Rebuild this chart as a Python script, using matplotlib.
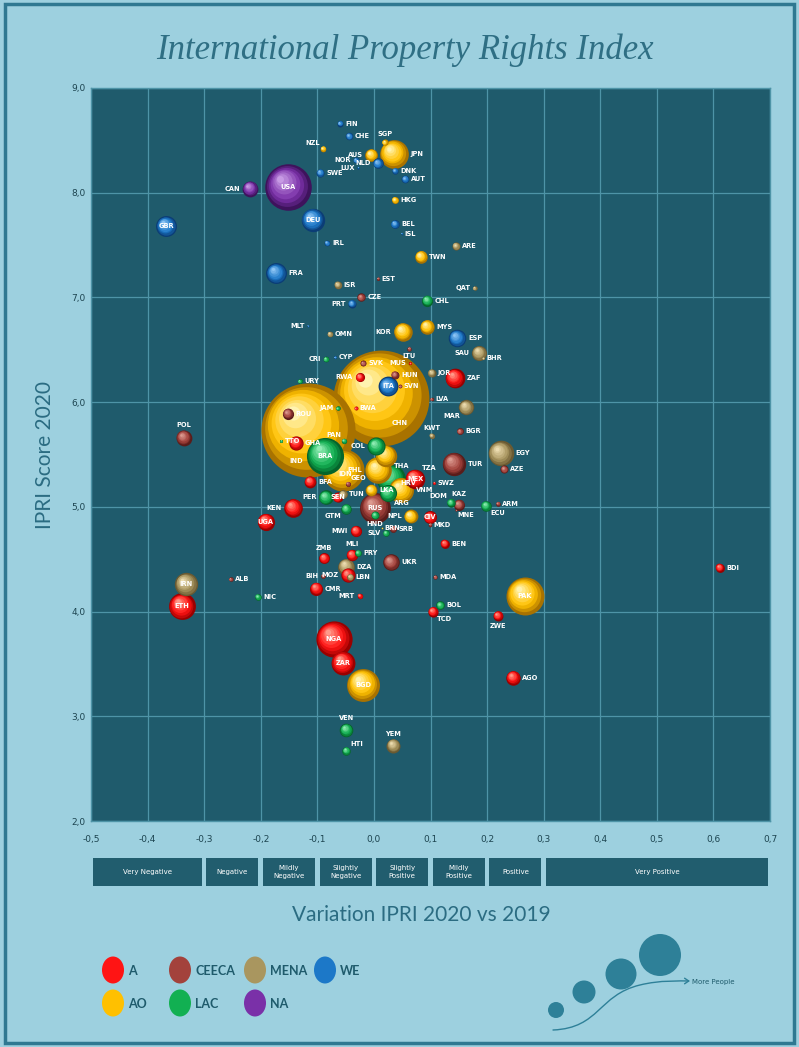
import numpy as np
import matplotlib.pyplot as plt
from matplotlib.colors import to_rgb
from matplotlib.patches import Rectangle, Ellipse, Circle, FancyArrowPatch
from matplotlib.path import Path
from matplotlib.transforms import blended_transform_factory
from matplotlib.ticker import MultipleLocator, FuncFormatter

# ---- data: country code, region, variation 2020 vs 2019, IPRI score 2020, population (M)
codes = ['FIN', 'CHE', 'NOR', 'LUX', 'NLD', 'DNK', 'AUT', 'SWE', 'DEU', 'GBR', 'FRA', 'BEL', 'ISL', 'IRL',
         'PRT', 'MLT', 'ESP', 'ITA', 'CYP',
         'USA', 'CAN',
         'NZL', 'AUS', 'SGP', 'JPN', 'HKG', 'TWN', 'KOR', 'MYS', 'CHN', 'IND', 'IDN', 'THA', 'PHL', 'LKA',
         'VNM', 'NPL', 'BRN', 'BGD', 'PAK',
         'CHL', 'CRI', 'URY', 'JAM', 'PAN', 'TTO', 'COL', 'BRA', 'MEX', 'ARG', 'PER', 'GTM', 'HND', 'SLV',
         'DOM', 'ECU', 'PRY', 'NIC', 'BOL', 'VEN', 'HTI',
         'RWA', 'MUS', 'BWA', 'ZAF', 'GHA', 'BFA', 'SEN', 'TZA', 'KEN', 'UGA', 'MWI', 'CIV', 'BEN', 'ZMB',
         'MLI', 'MOZ', 'CMR', 'MRT', 'ETH', 'NGA', 'ZAR', 'TCD', 'ZWE', 'AGO', 'BDI', 'SWZ',
         'CZE', 'EST', 'LTU', 'SVK', 'HUN', 'SVN', 'LVA', 'ROU', 'POL', 'BGR', 'TUR', 'AZE', 'GEO', 'HRV',
         'RUS', 'KAZ', 'MNE', 'ARM', 'SRB', 'MKD', 'BIH', 'UKR', 'MDA', 'ALB',
         'ISR', 'OMN', 'ARE', 'QAT', 'SAU', 'BHR', 'JOR', 'MAR', 'KWT', 'EGY', 'TUN', 'DZA', 'LBN', 'IRN', 'YEM']

region = (['WE'] * 19 + ['NA'] * 2 + ['AO'] * 19 + ['LAC'] * 21 + ['A'] * 26 + ['CEECA'] * 24 + ['MENA'] * 15)

variation = [-0.060, -0.044, -0.032, -0.028, 0.007, 0.037, 0.055, -0.095, -0.108, -0.367, -0.173, 0.037, 0.049, -0.083,
             -0.039, -0.117, 0.147, 0.025, -0.069,
             -0.152, -0.219,
             -0.090, -0.005, 0.019, 0.035, 0.037, 0.083, 0.051, 0.094, 0.012, -0.117, -0.055, 0.021, 0.007, -0.005,
             0.048, 0.065, 0.014, -0.019, 0.267,
             0.094, -0.085, -0.131, -0.064, -0.053, -0.164, 0.004, -0.087, 0.030, 0.025, -0.085, -0.049, 0.002, 0.021,
             0.136, 0.198, -0.028, -0.205, 0.117, -0.049, -0.049,
             -0.025, 0.064, -0.032, 0.143, -0.138, -0.113, -0.064, 0.072, -0.143, -0.191, -0.032, 0.099, 0.125, -0.088,
             -0.039, -0.046, -0.102, -0.025, -0.339, -0.071, -0.055, 0.104, 0.219, 0.246, 0.611, 0.106,
             -0.023, 0.007, 0.062, -0.019, 0.037, 0.046, 0.102, -0.152, -0.336, 0.152, 0.141, 0.230, -0.046, 0.060,
             0.002, 0.150, 0.145, 0.219, 0.034, 0.099, -0.090, 0.030, 0.108, -0.253,
             -0.064, -0.078, 0.145, 0.178, 0.186, 0.193, 0.102, 0.163, 0.102, 0.224, -0.055, -0.049, -0.042, -0.332, 0.034]

score = [8.66, 8.54, 8.31, 8.24, 8.28, 8.21, 8.13, 8.19, 7.74, 7.68, 7.23, 7.70, 7.61, 7.52,
         6.94, 6.73, 6.61, 6.15, 6.43,
         8.05, 8.04,
         8.42, 8.36, 8.48, 8.37, 7.93, 7.39, 6.67, 6.72, 6.04, 5.73, 5.35, 5.49, 5.35, 5.16,
         5.16, 4.91, 4.80, 3.30, 4.15,
         6.97, 6.41, 6.20, 5.94, 5.63, 5.63, 5.58, 5.49, 5.27, 5.13, 5.09, 4.98, 4.92, 4.75,
         5.04, 5.01, 4.56, 4.14, 4.06, 2.87, 2.67,
         6.24, 6.37, 5.94, 6.23, 5.61, 5.24, 5.09, 5.27, 4.99, 4.86, 4.77, 4.90, 4.65, 4.51,
         4.54, 4.35, 4.22, 4.15, 4.05, 3.74, 3.51, 4.00, 3.96, 3.37, 4.42, 5.23,
         7.00, 7.18, 6.51, 6.37, 6.26, 6.15, 6.03, 5.89, 5.66, 5.72, 5.41, 5.36, 5.22, 5.23,
         4.99, 5.02, 4.97, 5.03, 4.79, 4.83, 4.34, 4.47, 4.33, 4.31,
         7.12, 6.65, 7.49, 7.09, 6.47, 6.42, 6.28, 5.95, 5.68, 5.51, 5.12, 4.43, 4.33, 4.26, 2.72]

population = [5.5, 8.6, 5.4, 0.6, 17, 5.8, 9, 10, 83, 67, 67, 11.5, 0.4, 5,
              10, 0.5, 47, 60, 1.2,
              330, 38,
              5, 25, 5.7, 126, 7.5, 24, 52, 32, 1400, 1350, 270, 70, 108, 21,
              96, 29, 0.4, 165, 220,
              19, 5, 3.5, 3, 4.3, 1.4, 50, 210, 128, 45, 33, 17, 10, 6.5,
              11, 17, 7, 6.6, 11.5, 28, 11,
              12.7, 1.3, 2.3, 59, 31, 21, 16, 58, 53, 45, 19, 26, 12, 18,
              20, 31, 26, 4.5, 110, 200, 87, 16, 15, 32, 12, 1.1,
              10.7, 1.3, 2.8, 5.5, 9.7, 2.1, 1.9, 19, 38, 7, 83, 10, 3.7, 4,
              145, 18.7, 0.6, 3, 7, 2, 3.3, 42, 2.7, 2.9,
              9, 5, 10, 2.8, 35, 1.6, 10, 36, 4.3, 100, 11.8, 43, 6.8, 83, 30]

regions = ['A', 'CEECA', 'MENA', 'WE', 'AO', 'LAC', 'NA']
bands = ['Very Negative', 'Negative', 'Mildly\nNegative', 'Slightly\nNegative',
         'Slightly\nPositive', 'Mildly\nPositive', 'Positive', 'Very Positive']
band_edges = [-0.5, -0.3, -0.2, -0.1, 0.0, 0.1, 0.2, 0.3, 0.7]

# ---- styles
# (dark rim, base, highlight)
palette = {
    'A': ('#9a0000', '#ff1414', '#ff9a8a'),
    'CEECA': ('#5a1c1a', '#a3423c', '#dc9a90'),
    'MENA': ('#6a5a32', '#a9965f', '#ecdcb0'),
    'WE': ('#0b3d76', '#1c78c8', '#8cc4f4'),
    'AO': ('#a87200', '#ffc000', '#fff3b0'),
    'LAC': ('#05652b', '#12b052', '#90ecb4'),
    'NA': ('#3e135c', '#7a30a8', '#c79ae4'),
}
label_side = {
    'NZL': 'tl', 'AUS': 'l', 'NOR': 'l', 'LUX': 'l', 'NLD': 'l', 'CAN': 'l', 'KOR': 'l', 'PRT': 'l',
    'MLT': 'l', 'SAU': 'l', 'QAT': 'l', 'RWA': 'l', 'CRI': 'l', 'JAM': 'l', 'COL': 'l', 'PHL': 'l',
    'PER': 'l', 'GTM': 'bl', 'KEN': 'l', 'MWI': 'l', 'MOZ': 'l', 'BIH': 'l', 'MRT': 'l', 'MAR': 'bl',
    'SLV': 'l', 'DOM': 'tl', 'NPL': 'l', 'MUS': 'l', 'SVK': 'r', 'GEO': 'tr', 'TUN': 'r',
    'USA': 'c', 'DEU': 'c', 'GBR': 'c', 'ITA': 'c', 'BRA': 'c', 'NGA': 'c', 'ZAR': 'c', 'BGD': 'c',
    'PAK': 'c', 'ETH': 'c', 'IRN': 'c', 'RUS': 'c', 'UGA': 'c', 'HRV': 'c', 'CIV': 'c', 'SEN': 'c',
    'SGP': 't', 'POL': 't', 'VEN': 't', 'YEM': 't', 'ZMB': 't', 'MLI': 't', 'KWT': 't',
    'KAZ': 't', 'PAN': 'tl', 'TZA': 'tr', 'HTI': 'tr',
    'LTU': 'b', 'ZWE': 'b', 'TCD': 'br', 'HND': 'b', 'ECU': 'br', 'MNE': 'br', 'THA': 'br', 'ARG': 'br',
}
label_custom = {'CHN': (14, -18), 'IND': (-8, -22), 'IDN': (2, -3)}

bg_fig = '#9dd0df'
bg_ax = '#1f5b6c'
grid_c = '#4e94a7'
text_c = '#2b6c82'

fig = plt.figure(figsize=(7.99, 10.47), dpi=100, facecolor=bg_fig)
fig.patches.append(Rectangle((0.006, 0.004), 0.988, 0.992, transform=fig.transFigure,
                             fill=False, edgecolor='#2f7891', lw=2.5))
ax = fig.add_axes([91 / 799, 1 - 821 / 1047, 679 / 799, 733 / 1047], facecolor=bg_ax)
ax.set_xlim(-0.5, 0.7)
ax.set_ylim(2.0, 9.0)
ax.xaxis.set_major_locator(MultipleLocator(0.1))
ax.yaxis.set_major_locator(MultipleLocator(1.0))
fmt = FuncFormatter(lambda v, p: f'{v:.1f}'.replace('.', ','))
ax.xaxis.set_major_formatter(fmt)
ax.yaxis.set_major_formatter(fmt)
ax.tick_params(length=0, labelsize=6.5, colors='#1d4450', pad=4)
ax.tick_params(axis='x', pad=10)
ax.grid(True, color=grid_c, lw=0.9)
ax.set_axisbelow(True)
for sp in ax.spines.values():
    sp.set_color(grid_c)
    sp.set_linewidth(1.0)

# pixel scale of the data axes, used for the sphere shading offsets
p0 = ax.transData.transform((0, 0))
ux = ax.transData.transform((1, 0))[0] - p0[0]
uy = ax.transData.transform((0, 1))[1] - p0[1]


def blend(c1, c2, t):
    a, b = np.array(to_rgb(c1)), np.array(to_rgb(c2))
    return tuple(a + (b - a) * t)


size_scale = 3.4
order = np.argsort(population)[::-1]
n_layers = 8
for i in order:
    x, y = variation[i], score[i]
    s = size_scale * population[i]
    dark, base, light = palette[region[i]]
    r_px = np.sqrt(s) / 2 * fig.dpi / 72
    for k in range(n_layers):
        t = k / (n_layers - 1)
        if t < 0.35:
            col = blend(dark, base, t / 0.35)
        else:
            col = blend(base, light, (t - 0.35) / 0.65)
        f = 1 - 0.85 * t
        dx = -0.32 * t * r_px / ux
        dy = 0.38 * t * r_px / uy
        ax.scatter(x + dx, y + dy, s=s * f * f, color=col, lw=0, zorder=3, clip_on=False)

for i in range(len(codes)):
    s = size_scale * population[i]
    r_pt = np.sqrt(s) / 2
    side = label_side.get(codes[i], 'r')
    g = r_pt + 1.5
    if codes[i] in label_custom:
        off, ha, va = label_custom[codes[i]], 'center', 'center'
    elif side == 'c':
        off, ha, va = (0, 0), 'center', 'center'
    elif side == 'l':
        off, ha, va = (-g, 0), 'right', 'center'
    elif side == 't':
        off, ha, va = (0, g), 'center', 'bottom'
    elif side == 'b':
        off, ha, va = (0, -g), 'center', 'top'
    elif side == 'tl':
        off, ha, va = (-g * 0.6, g * 0.6), 'right', 'bottom'
    elif side == 'tr':
        off, ha, va = (g * 0.6, g * 0.6), 'left', 'bottom'
    elif side == 'bl':
        off, ha, va = (-g * 0.6, -g * 0.6), 'right', 'top'
    elif side == 'br':
        off, ha, va = (g * 0.6, -g * 0.6), 'left', 'top'
    else:
        off, ha, va = (g, 0), 'left', 'center'
    ax.annotate(codes[i], (variation[i], score[i]), xytext=off, textcoords='offset points',
                ha=ha, va=va, fontsize=4.8, color='white', fontweight='bold', zorder=5)

# ---- variation category band under the x axis
tb = blended_transform_factory(ax.transData, ax.transAxes)
for j, lab in enumerate(bands):
    x0, x1 = band_edges[j] + 0.004, band_edges[j + 1] - 0.004
    ax.add_patch(Rectangle((x0, -0.0885), x1 - x0, 0.038, transform=tb, facecolor='#215d6e',
                           edgecolor='none', clip_on=False))
    ax.text((x0 + x1) / 2, -0.0695, lab, transform=tb, ha='center', va='center', fontsize=5,
            color='white', linespacing=1.3)

# ---- titles
fig.text(0.507, 0.952, 'International Property Rights Index', ha='center', va='center',
         family='Liberation Serif', style='italic', fontsize=25, color='#2f6f84')
fig.text(0.527, 1 - 915 / 1047, 'Variation IPRI 2020 vs 2019', ha='center', va='center',
         family='Lato', fontsize=15, color=text_c)
fig.text(45 / 799, 1 - 455 / 1047, 'IPRI Score 2020', ha='center', va='center', rotation=90,
         family='Lato', fontsize=15, color=text_c)

# ---- decoration layer in pixel units: region legend and bubble size key
deco = fig.add_axes([0, 0, 1, 1], facecolor='none')
deco.set_xlim(0, 799)
deco.set_ylim(1047, 0)
deco.axis('off')
leg_x = [113, 180, 255, 325, 113, 180, 255]
leg_y = [970, 970, 970, 970, 1003, 1003, 1003]
leg_order = ['A', 'CEECA', 'MENA', 'WE', 'AO', 'LAC', 'NA']
for lx, ly, rg in zip(leg_x, leg_y, leg_order):
    deco.add_patch(Ellipse((lx, ly), 22, 27, color=palette[rg][1], lw=0))
    deco.text(lx + 15, ly + 1, rg, ha='left', va='center', family='Lato', fontsize=9,
              color='#1f5b6c', fontweight='bold')

key_c = '#2e8098'
for cx, cy, r in [(556, 1010, 8), (584, 992, 11.5), (621, 974, 15.5), (660, 955, 21)]:
    deco.add_patch(Circle((cx, cy), r, color=key_c, lw=0))
arrow_path = Path([(553, 1030), (600, 1028), (598, 995), (640, 985), (660, 980), (680, 981), (690, 981)],
                  [Path.MOVETO, Path.CURVE4, Path.CURVE4, Path.CURVE4, Path.CURVE4, Path.CURVE4, Path.CURVE4])
deco.add_patch(FancyArrowPatch(path=arrow_path, arrowstyle='->,head_length=3,head_width=2',
                               color=key_c, lw=1.0))
deco.text(692, 982, 'More People', ha='left', va='center', fontsize=5, color='#1f5b6c')

fig.savefig('out.png', dpi=100, facecolor=fig.get_facecolor())
